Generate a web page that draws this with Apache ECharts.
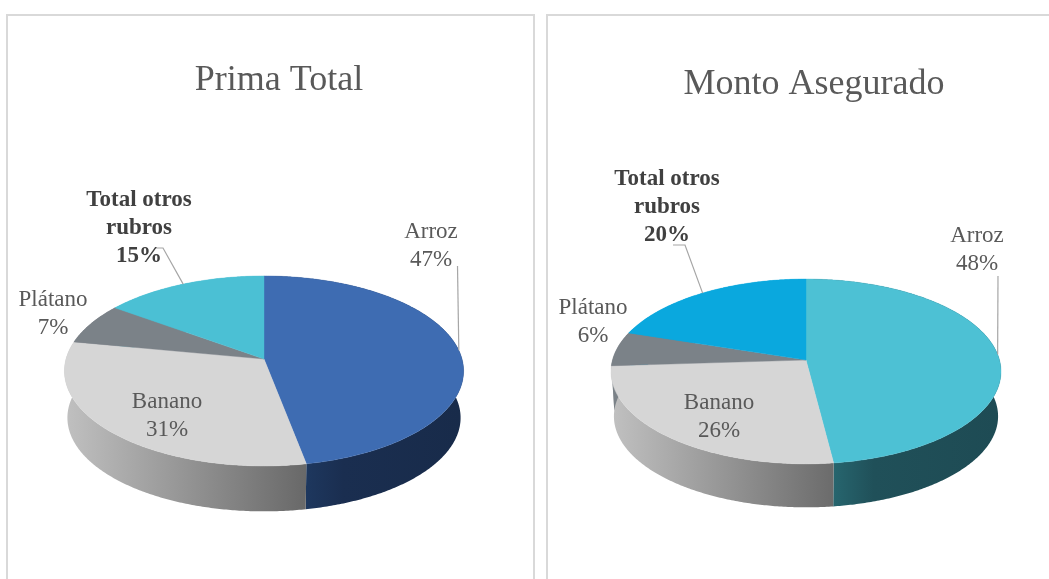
<!DOCTYPE html>
<html><head><meta charset="utf-8">
<style>html,body{margin:0;padding:0;background:#fff}#c{width:1049px;height:579px}</style>
<script src="https://cdn.jsdelivr.net/npm/echarts@6/dist/echarts.min.js"></script>
</head><body><div id="c"></div>
<script>
const categories = ['Arroz', 'Banano', 'Plátano', 'Total otros rubros'];
const primaValues = [47, 31, 7, 15];
const montoValues = [48, 26, 6, 20];
const titles = ['Prima Total', 'Monto Asegurado'];

const FONT = '"Liberation Serif","Times New Roman",serif';
const pies = [
  { values: primaValues, title: titles[0], titleX: 279, titleY: 81,
    cx: 264, cy: 359, A: 198, B: 93.5, k: -0.126, depth: 47, shrink: 0.985,
    colors: ['#3E6CB2', '#D6D6D6', '#7B8288', '#4BC0D4'],
    side: [[[0, '#1E385F'], [0.25, '#1A2E50'], [1, '#182B4A']], [[0, '#C0C0C0'], [1, '#696969']], null, null],
    sideX: [[304, 461], [66, 304], null, null],
    labels: [
      { x: 431, y: 245.5 }, { x: 167, y: 416 }, { x: 53, y: 314 },
      { x: 139, y: 228.5, bold: true, lines: ['Total otros', 'rubros'] }],
    leaders: { 0: [[457.5, 266]], 3: [[163, 248], [155, 248]] } },
  { values: montoValues, title: titles[1], titleX: 814, titleY: 85,
    cx: 806, cy: 360, A: 193.5, B: 91, k: -0.124, depth: 45, shrink: 0.985,
    colors: ['#4DC1D4', '#D6D6D6', '#7B8288', '#0AA8DE'],
    side: [[[0, '#27666F'], [0.25, '#205059'], [1, '#1E4B54']], [[0, '#C0C0C0'], [1, '#6C6C6C']], null, null],
    sideX: [[832, 999], [613, 832], null, null],
    labels: [
      { x: 977, y: 250 }, { x: 719, y: 416.5 }, { x: 593, y: 322 },
      { x: 667, y: 207.5, bold: true, lines: ['Total otros', 'rubros'] }],
    leaders: { 0: [[998, 276]], 3: [[685, 245], [673, 245]] } }
];

function project(p, theta, scale, dy) {
  const u = Math.sin(theta), v = -Math.cos(theta), w = 1 + p.k * v;
  return [p.cx + p.A * scale * u / w, p.cy + dy + p.B * scale * v / w];
}
function range(values, i) {
  const total = values.reduce((a, b) => a + b, 0);
  const before = values.slice(0, i).reduce((a, b) => a + b, 0);
  return [before / total * 2 * Math.PI, (before + values[i]) / total * 2 * Math.PI];
}
function arc(p, a0, a1, scale, dy) {
  const n = Math.max(2, Math.ceil((a1 - a0) / 0.01)), pts = [];
  for (let j = 0; j <= n; j++) pts.push(project(p, a0 + (a1 - a0) * j / n, scale, dy));
  return pts;
}
function sideItem(p) {
  return function (params) {
    const i = params.dataIndex, r = range(p.values, i);
    const top = arc(p, r[0], r[1], 1, 0);
    const bottom = arc(p, r[0], r[1], p.shrink, p.depth).reverse();
    const fill = p.side[i] ? {
      type: 'linear', global: true, x: p.sideX[i][0], y: 0, x2: p.sideX[i][1], y2: 0,
      colorStops: p.side[i].map(s => ({ offset: s[0], color: s[1] }))
    } : p.colors[i];
    return { type: 'polygon', shape: { points: top.concat(bottom) }, style: { fill: fill }, silent: true };
  };
}
function topItem(p) {
  return function (params, api) {
    const i = params.dataIndex, r = range(p.values, i), val = api.value(0);
    const pts = [[p.cx, p.cy]].concat(arc(p, r[0], r[1], 1, 0));
    const children = [{
      type: 'polygon', z2: 1, shape: { points: pts },
      style: { fill: p.colors[i], stroke: p.colors[i], lineWidth: 0.4 }
    }];
    const lab = p.labels[i];
    if (p.leaders[i]) {
      const anchor = project(p, (r[0] + r[1]) / 2, 1, 0);
      children.push({
        type: 'polyline', z2: 2, shape: { points: [anchor].concat(p.leaders[i]) },
        style: { fill: 'none', stroke: '#A6A6A6', lineWidth: 1.2 }
      });
    }
    const lines = (lab.lines || [categories[i]]).concat([val + '%']);
    children.push({
      type: 'text', z2: 3,
      style: {
        x: lab.x, y: lab.y, text: lines.join('\n'), align: 'center', verticalAlign: 'middle',
        font: (lab.bold ? 'bold ' : '') + '23px ' + FONT, lineHeight: 28, fill: lab.bold ? '#404040' : '#595959'
      }
    });
    return { type: 'group', silent: true, children: children };
  };
}

const chart = echarts.init(document.getElementById('c'), null, { renderer: 'canvas' });
const series = [];
pies.forEach(p => {
  const data = p.values.map(v => [v]);
  series.push({ type: 'custom', coordinateSystem: 'none', data: data, z: 2, silent: true, animation: false, renderItem: sideItem(p) });
  series.push({ type: 'custom', coordinateSystem: 'none', data: data, z: 3, silent: true, animation: false, renderItem: topItem(p) });
});
chart.setOption({
  animation: false,
  backgroundColor: '#fff',
  title: pies.map(p => ({
    text: p.title, left: p.titleX, top: p.titleY, textAlign: 'center', textVerticalAlign: 'middle', padding: 0,
    textStyle: { fontFamily: FONT, fontWeight: 'normal', fontSize: 36, color: '#595959' }
  })),
  graphic: [
    { type: 'rect', z: 1, silent: true, shape: { x: 7, y: 15, width: 527, height: 700 }, style: { fill: 'none', stroke: '#D9D9D9', lineWidth: 2 } },
    { type: 'rect', z: 1, silent: true, shape: { x: 547, y: 15, width: 600, height: 700 }, style: { fill: 'none', stroke: '#D9D9D9', lineWidth: 2 } }
  ],
  series: series
});
</script></body></html>
